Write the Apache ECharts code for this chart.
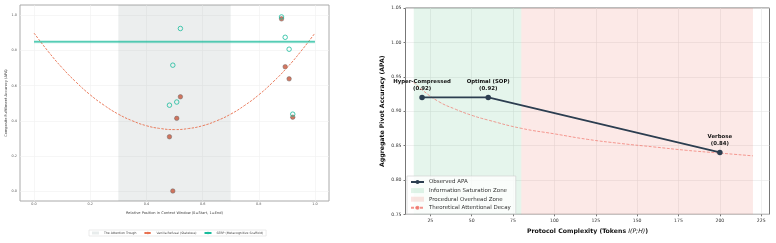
<!DOCTYPE html>
<html>
<head>
<meta charset="utf-8">
<script src="https://cdn.jsdelivr.net/npm/echarts@6/dist/echarts.min.js"></script>
<style>
  html, body { margin: 0; padding: 0; background: #fff; }
  #chart { width: 776px; height: 243px; }
</style>
</head>
<body>
<div id="chart"></div>
<script>
// left panel: position in context window vs accuracy
const curveX = [0, 0.05, 0.1, 0.15, 0.2, 0.25, 0.3, 0.35, 0.4, 0.45, 0.5, 0.55, 0.6, 0.65, 0.7, 0.75, 0.8, 0.85, 0.9, 0.95, 1.0];
const vanillaCurve = [0.9, 0.796, 0.702, 0.62, 0.548, 0.488, 0.438, 0.4, 0.372, 0.356, 0.35, 0.356, 0.372, 0.4, 0.438, 0.488, 0.548, 0.62, 0.702, 0.796, 0.9];
const serpLevel = 0.85;
const serpPoints = [[0.482, 0.489], [0.494, 0.717], [0.508, 0.507], [0.521, 0.926], [0.881, 0.992], [0.894, 0.876], [0.908, 0.808], [0.921, 0.438]];
const vanillaPoints = [[0.482, 0.309], [0.494, 0.0], [0.508, 0.414], [0.521, 0.537], [0.881, 0.981], [0.894, 0.708], [0.908, 0.639], [0.921, 0.421]];
const trough = [0.3, 0.7];
const leftTicks = [0, 0.2, 0.4, 0.6, 0.8, 1.0];

// right panel: protocol complexity vs APA
const tokens = [20, 60, 200];
const apa = [0.92, 0.92, 0.84];
const protocolNames = ['Hyper-Compressed', 'Optimal (SOP)', 'Verbose'];
const decayX = [15, 20, 30, 40, 50, 60, 80, 100, 120, 140, 160, 180, 200, 220];
const decayY = [0.942, 0.931, 0.914, 0.903, 0.894, 0.887, 0.875, 0.867, 0.859, 0.853, 0.848, 0.843, 0.839, 0.835];
const saturationZone = [15, 80];
const overheadZone = [80, 220];
const rightXTicks = [25, 50, 75, 100, 125, 150, 175, 200, 225];

const FONT = 'DejaVu Sans';
const chart = echarts.init(document.getElementById('chart'));

const option = {
  animation: false,
  textStyle: { fontFamily: FONT },
  grid: [
    { left: 20, top: 5, width: 309, height: 196, show: true, borderColor: '#aaa', borderWidth: 1 },
    { left: 405.5, top: 8, width: 364, height: 206.3, show: true, borderColor: '#777', borderWidth: 1 }
  ],
  xAxis: [
    {
      gridIndex: 0, type: 'value', min: -0.05, max: 1.05,
      name: 'Relative Position in Context Window (0=Start, 1=End)',
      nameLocation: 'middle', nameGap: 7,
      nameTextStyle: { fontSize: 3.6, color: '#444' },
      axisLine: { show: false },
      axisTick: { show: false, customValues: leftTicks },
      axisLabel: { customValues: leftTicks, fontSize: 3.4, color: '#555', margin: 2, formatter: v => v.toFixed(1) },
      splitLine: { lineStyle: { color: '#f0f0f0', width: 0.6 } }
    },
    {
      gridIndex: 1, type: 'value', min: 10, max: 230,
      name: '{b|Protocol Complexity (Tokens }{i|I(P;H)}{b|)}',
      nameLocation: 'middle', nameGap: 13,
      nameTextStyle: {
        rich: {
          b: { fontSize: 6.2, fontWeight: 'bold', color: '#111', fontFamily: FONT },
          i: { fontSize: 6.2, fontStyle: 'italic', color: '#111', fontFamily: FONT }
        }
      },
      axisLine: { show: false },
      axisTick: { show: true, customValues: rightXTicks, length: 2, lineStyle: { color: '#777' } },
      axisLabel: { customValues: rightXTicks, fontSize: 4.6, color: '#333', margin: 4 },
      splitLine: { lineStyle: { color: '#e6e6e6', width: 0.6 } }
    }
  ],
  yAxis: [
    {
      gridIndex: 0, type: 'value', min: -0.057, max: 1.06,
      name: 'Composite Fulfillment Accuracy (APA)',
      nameLocation: 'middle', nameGap: 10,
      nameTextStyle: { fontSize: 3.6, color: '#444' },
      axisLine: { show: false },
      axisTick: { show: false, customValues: leftTicks },
      axisLabel: { customValues: leftTicks, fontSize: 3.4, color: '#555', margin: 3, formatter: v => v.toFixed(1) },
      splitLine: { lineStyle: { color: '#f0f0f0', width: 0.6 } }
    },
    {
      gridIndex: 1, type: 'value', min: 0.75, max: 1.05, interval: 0.05,
      name: 'Aggregate Pivot Accuracy (APA)',
      nameLocation: 'middle', nameGap: 20,
      nameTextStyle: { fontSize: 6.2, fontWeight: 'bold', color: '#111' },
      axisLine: { show: false },
      axisTick: { show: true, length: 2, lineStyle: { color: '#777' } },
      axisLabel: { fontSize: 4.6, color: '#333', margin: 4, formatter: v => v.toFixed(2) },
      splitLine: { lineStyle: { color: '#e6e6e6', width: 0.6 } }
    }
  ],
  legend: [
    {
      left: 89, top: 230, itemWidth: 7, itemHeight: 3, itemGap: 7, padding: [1.5, 3],
      borderColor: '#ddd', borderWidth: 0.6,
      textStyle: { fontSize: 3.1, color: '#444', fontFamily: FONT },
      data: [
        { name: 'The Attention Trough', icon: 'rect', itemStyle: { color: '#e8ecec' } },
        { name: 'Vanilla Refusal (Stateless)' },
        { name: 'SERP (Metacognitive Scaffold)' }
      ]
    },
    {
      left: 407, top: 176, orient: 'vertical', itemWidth: 13, itemHeight: 5, itemGap: 2.6, padding: [3, 5, 3, 3],
      borderColor: '#ccc', borderWidth: 0.6, backgroundColor: 'rgba(255,255,255,0.8)',
      textStyle: { fontSize: 5.5, color: '#333', fontFamily: FONT },
      data: [
        { name: 'Observed APA' },
        { name: 'Information Saturation Zone', icon: 'rect', itemStyle: { color: 'rgba(39,174,96,0.14)' } },
        { name: 'Procedural Overhead Zone', icon: 'rect', itemStyle: { color: 'rgba(231,76,60,0.15)' } },
        { name: 'Theoretical Attentional Decay' }
      ]
    }
  ],
  series: [
    // left panel
    {
      name: 'The Attention Trough', type: 'line', xAxisIndex: 0, yAxisIndex: 0, data: [],
      markArea: {
        silent: true,
        itemStyle: { color: 'rgba(127,140,141,0.15)' },
        data: [[{ xAxis: trough[0] }, { xAxis: trough[1] }]]
      }
    },
    {
      name: 'Vanilla Refusal (Stateless)', type: 'line', xAxisIndex: 0, yAxisIndex: 0,
      smooth: true, showSymbol: false, symbol: 'none',
      lineStyle: { color: '#e8704f', width: 0.9, type: [2.5, 1.3] },
      itemStyle: { color: '#e8704f' },
      data: curveX.map((x, i) => [x, vanillaCurve[i]])
    },
    {
      name: 'SERP halo', type: 'line', xAxisIndex: 0, yAxisIndex: 0, showSymbol: false, symbol: 'none',
      lineStyle: { color: 'rgba(26,188,156,0.25)', width: 3 },
      data: [[0, serpLevel], [1, serpLevel]], silent: true
    },
    {
      name: 'SERP (Metacognitive Scaffold)', type: 'line', xAxisIndex: 0, yAxisIndex: 0, showSymbol: false, symbol: 'none',
      lineStyle: { color: '#1abc9c', width: 1 }, itemStyle: { color: '#1abc9c' },
      data: [[0, serpLevel], [1, serpLevel]]
    },
    {
      name: 'vanilla pts', type: 'scatter', xAxisIndex: 0, yAxisIndex: 0, symbolSize: 4.5,
      itemStyle: { color: '#c9553a', borderColor: '#666', borderWidth: 0.6 },
      data: vanillaPoints
    },
    {
      name: 'serp pts', type: 'scatter', xAxisIndex: 0, yAxisIndex: 0, symbolSize: 4.5,
      itemStyle: { color: 'rgba(255,255,255,0)', borderColor: '#1abc9c', borderWidth: 1 },
      data: serpPoints
    },
    // right panel
    {
      name: 'Information Saturation Zone', type: 'line', xAxisIndex: 1, yAxisIndex: 1, data: [],
      markArea: {
        silent: true,
        itemStyle: { color: 'rgba(39,174,96,0.12)' },
        data: [[{ xAxis: saturationZone[0] }, { xAxis: saturationZone[1] }]]
      }
    },
    {
      name: 'Procedural Overhead Zone', type: 'line', xAxisIndex: 1, yAxisIndex: 1, data: [],
      markArea: {
        silent: true,
        itemStyle: { color: 'rgba(231,76,60,0.12)' },
        data: [[{ xAxis: overheadZone[0] }, { xAxis: overheadZone[1] }]]
      }
    },
    {
      name: 'Theoretical Attentional Decay', type: 'line', xAxisIndex: 1, yAxisIndex: 1,
      smooth: true, showSymbol: false, symbol: 'none',
      lineStyle: { color: 'rgba(240,110,100,0.75)', width: 0.9, type: [3, 1.5] },
      itemStyle: { color: 'rgba(240,110,100,0.75)' },
      data: decayX.map((x, i) => [x, decayY[i]])
    },
    {
      name: 'Observed APA', type: 'line', xAxisIndex: 1, yAxisIndex: 1,
      symbol: 'circle', symbolSize: 5.5,
      lineStyle: { color: '#2c3e50', width: 1.8 },
      itemStyle: { color: '#2c3e50' },
      label: {
        show: true, position: 'top', distance: 3,
        fontSize: 5.4, fontWeight: 'bold', color: '#111', lineHeight: 6.6, align: 'center',
        formatter: p => protocolNames[p.dataIndex] + '\n(' + p.value[1].toFixed(2) + ')'
      },
      data: tokens.map((t, i) => [t, apa[i]]),
      z: 5
    }
  ]
};

chart.setOption(option);
</script>
</body>
</html>
